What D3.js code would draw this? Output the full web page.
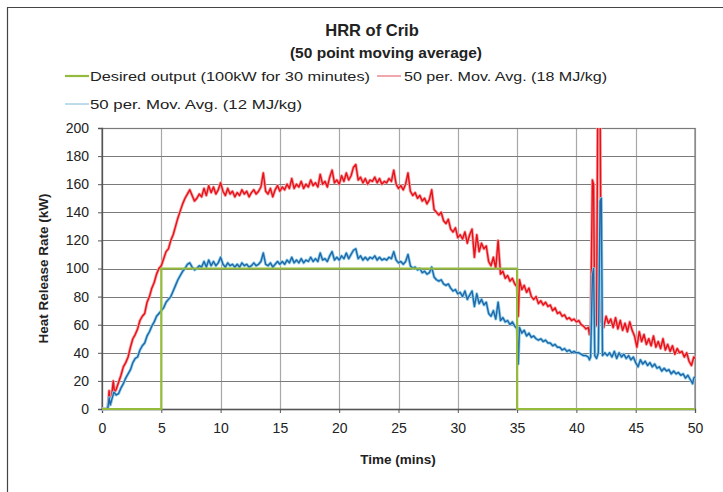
<!DOCTYPE html>
<html><head><meta charset="utf-8">
<script src="https://cdn.jsdelivr.net/npm/d3@7"></script>
<style>body{margin:0;background:#fff;}svg{display:block;font-family:"Liberation Sans",Arial,sans-serif;}</style>
</head><body><svg id="c" width="723" height="492"></svg>
<script>
const titleLines = ["HRR of Crib", "(50 point moving average)"];
const xLabel = "Time (mins)";
const yLabel = "Heat Release Rate (kW)";
const xTicks = [0,5,10,15,20,25,30,35,40,45,50];
const yTicks = [0,20,40,60,80,100,120,140,160,180,200];
const seriesNames = ["Desired output (100kW for 30 minutes)", "50 per. Mov. Avg. (18 MJ/kg)", "50 per. Mov. Avg. (12 MJ/kg)"];
const desired = [[0,0],[5,0],[5,100],[35,100],[35,0],[50,0]];
const red18 = [[0,0],[0.4,0],[0.5,2],[0.6,13],[0.7,3],[0.8,8],[0.95,20],[1.05,12],[1.2,14],[1.4,19],[1.6,24],[1.8,30],[2.0,33],[2.2,37],[2.4,44],[2.6,50],[2.8,53],[3.0,57],[3.2,63],[3.4,66],[3.6,68],[3.8,76],[4.0,80],[4.2,86],[4.4,90],[4.6,96],[4.8,100],[5.0,102],[5.2,107],[5.4,112],[5.6,114],[5.8,120],[6.0,124],[6.2,130],[6.4,136],[6.6,141],[6.8,146],[7.0,150],[7.2,153],[7.4,156],[7.6,152],[7.8,148],[8.0,150],[8.2,153],[8.4,151],[8.6,157],[8.8,152],[9.0,159],[9.2,154],[9.4,158],[9.6,153],[9.8,156],[10.0,161],[10.2,155],[10.4,152],[10.6,157],[10.8,153],[11.0,155],[11.2,151],[11.4,154],[11.6,152],[11.8,156],[12.0,153],[12.2,155],[12.4,151],[12.6,154],[12.8,156],[13.0,153],[13.2,155],[13.4,158],[13.6,168],[13.8,155],[14.0,153],[14.2,157],[14.4,151],[14.6,156],[14.8,159],[15.0,155],[15.2,158],[15.4,156],[15.6,160],[15.8,157],[16.0,164],[16.2,157],[16.4,160],[16.6,158],[16.8,162],[17.0,157],[17.2,160],[17.4,158],[17.6,163],[17.8,159],[18.0,161],[18.2,158],[18.4,167],[18.6,160],[18.8,162],[19.0,158],[19.2,165],[19.4,170],[19.6,161],[19.8,163],[20.0,160],[20.2,166],[20.4,162],[20.6,168],[20.8,163],[21.0,166],[21.2,172],[21.4,174],[21.6,163],[21.8,165],[22.0,161],[22.2,164],[22.4,160],[22.6,163],[22.8,162],[23.0,165],[23.2,161],[23.4,164],[23.6,160],[23.8,162],[24.0,161],[24.2,164],[24.4,162],[24.6,170],[24.8,160],[25.0,157],[25.2,159],[25.4,156],[25.6,160],[25.8,168],[26.0,155],[26.2,152],[26.4,154],[26.6,150],[26.8,152],[27.0,148],[27.2,150],[27.4,146],[27.6,149],[27.8,156],[28.0,142],[28.2,140],[28.4,138],[28.6,140],[28.8,134],[29.0,132],[29.2,135],[29.4,128],[29.6,126],[29.8,129],[30.0,122],[30.2,124],[30.4,121],[30.6,126],[30.8,118],[31.0,124],[31.2,128],[31.4,108],[31.6,124],[31.8,112],[32.0,118],[32.2,114],[32.4,116],[32.6,105],[32.8,102],[33.0,108],[33.2,100],[33.4,120],[33.6,96],[33.8,98],[34.0,93],[34.2,95],[34.4,91],[34.6,93],[34.8,89],[35.0,87],[35.1,66],[35.2,92],[35.4,85],[35.6,88],[35.8,83],[36.0,86],[36.2,80],[36.4,78],[36.6,80],[36.8,75],[37.0,77],[37.2,74],[37.4,76],[37.6,73],[37.8,74],[38.0,70],[38.2,72],[38.4,68],[38.6,69],[38.8,66],[39.0,67],[39.2,64],[39.4,65],[39.6,63],[39.8,64],[40.0,62],[40.2,63],[40.4,60],[40.6,59],[40.8,57],[41.0,58],[41.1,53],[41.2,60],[41.35,163],[41.45,160],[41.55,58],[41.7,60],[41.8,215],[42.0,215],[42.1,62],[42.3,58],[42.5,66],[42.7,61],[42.9,64],[43.1,58],[43.3,65],[43.5,57],[43.7,63],[43.9,56],[44.1,61],[44.3,55],[44.5,62],[44.7,56],[44.9,52],[45.1,44],[45.3,55],[45.5,48],[45.7,53],[45.9,46],[46.1,50],[46.3,45],[46.5,52],[46.7,44],[46.9,48],[47.1,43],[47.3,50],[47.5,42],[47.7,46],[47.9,41],[48.1,45],[48.3,39],[48.5,43],[48.7,40],[48.9,41],[49.1,37],[49.3,40],[49.5,34],[49.7,31],[49.9,37],[50,36]];
const blue12 = [[0,0],[0.4,0],[0.5,1],[0.6,8],[0.7,3],[0.8,6],[1.0,12],[1.2,10],[1.4,11],[1.6,15],[1.8,18],[2.0,22],[2.2,25],[2.4,28],[2.6,33],[2.8,36],[3.0,37],[3.2,42],[3.4,45],[3.6,47],[3.8,52],[4.0,55],[4.2,59],[4.4,62],[4.6,66],[4.8,68],[5.0,70],[5.2,72],[5.4,76],[5.6,78],[5.8,80],[6.0,84],[6.2,88],[6.4,92],[6.6,95],[6.8,98],[7.0,100],[7.2,103],[7.4,104],[7.6,101],[7.8,99],[8.0,100],[8.2,102],[8.4,101],[8.6,105],[8.8,101],[9.0,106],[9.2,102],[9.4,105],[9.6,102],[9.8,104],[10.0,108],[10.2,103],[10.4,101],[10.6,104],[10.8,102],[11.0,103],[11.2,101],[11.4,103],[11.6,101],[11.8,104],[12.0,102],[12.2,103],[12.4,101],[12.6,102],[12.8,104],[13.0,102],[13.2,103],[13.4,105],[13.6,111],[13.8,103],[14.0,102],[14.2,104],[14.4,101],[14.6,103],[14.8,105],[15.0,103],[15.2,105],[15.4,103],[15.6,106],[15.8,104],[16.0,108],[16.2,104],[16.4,106],[16.6,104],[16.8,107],[17.0,104],[17.2,106],[17.4,105],[17.6,108],[17.8,105],[18.0,107],[18.2,105],[18.4,111],[18.6,106],[18.8,107],[19.0,105],[19.2,109],[19.4,112],[19.6,106],[19.8,108],[20.0,106],[20.2,109],[20.4,107],[20.6,111],[20.8,107],[21.0,110],[21.2,113],[21.4,114],[21.6,107],[21.8,109],[22.0,106],[22.2,108],[22.4,106],[22.6,108],[22.8,107],[23.0,109],[23.2,106],[23.4,108],[23.6,106],[23.8,107],[24.0,106],[24.2,108],[24.4,107],[24.6,112],[24.8,106],[25.0,104],[25.2,105],[25.4,103],[25.6,105],[25.8,110],[26.0,102],[26.2,100],[26.4,101],[26.6,99],[26.8,100],[27.0,97],[27.2,98],[27.4,96],[27.6,97],[27.8,101],[28.0,94],[28.2,92],[28.4,91],[28.6,92],[28.8,89],[29.0,88],[29.2,89],[29.4,86],[29.6,84],[29.8,85],[30.0,82],[30.2,83],[30.4,80],[30.6,84],[30.8,78],[31.0,81],[31.2,84],[31.4,73],[31.6,82],[31.8,75],[32.0,78],[32.2,74],[32.4,76],[32.6,68],[32.8,66],[33.0,70],[33.2,64],[33.4,76],[33.6,63],[33.8,65],[34.0,62],[34.2,63],[34.4,60],[34.6,62],[34.8,59],[35.0,57],[35.1,32],[35.2,58],[35.4,54],[35.6,56],[35.8,52],[36.0,54],[36.2,51],[36.4,52],[36.6,50],[36.8,49],[37.0,50],[37.2,48],[37.4,49],[37.6,47],[37.8,47],[38.0,45],[38.2,46],[38.4,44],[38.6,44],[38.8,42],[39.0,43],[39.2,41],[39.4,42],[39.6,40],[39.8,41],[40.0,40],[40.2,40],[40.4,39],[40.6,38],[40.8,38],[41.0,37],[41.1,35],[41.2,37],[41.35,95],[41.45,100],[41.55,38],[41.7,36],[41.85,40],[42.0,148],[42.1,150],[42.2,38],[42.4,40],[42.6,38],[42.8,40],[43.0,37],[43.2,41],[43.4,36],[43.6,40],[43.8,37],[44.0,39],[44.2,36],[44.4,38],[44.6,35],[44.8,37],[45.0,33],[45.2,30],[45.4,35],[45.6,32],[45.8,34],[46.0,31],[46.2,33],[46.4,30],[46.6,32],[46.8,29],[47.0,30],[47.2,27],[47.4,29],[47.6,27],[47.8,28],[48.0,25],[48.2,27],[48.4,25],[48.6,26],[48.8,24],[49.0,25],[49.2,22],[49.4,24],[49.6,21],[49.8,18],[49.9,22],[50,23]];

const svg = d3.select("#c");
const W = 723, H = 492;
const m = {l:102, r:695, t:128, b:409};
const x = d3.scaleLinear().domain([0,50]).range([m.l, m.r]);
const y = d3.scaleLinear().domain([0,200]).range([m.b, m.t]);

// outer frame
svg.append("path").attr("d", `M7.5,${H} V7.5 H${W}`).attr("fill","none").attr("stroke","#444").attr("stroke-width",1.2);

// grid
svg.append("g").selectAll("line").data(xTicks.slice(1)).join("line")
  .attr("x1", d=>Math.round(x(d))+0.5).attr("x2", d=>Math.round(x(d))+0.5)
  .attr("y1", m.t).attr("y2", m.b).attr("stroke","#a8a8a8").attr("stroke-width",1.2);
svg.append("g").selectAll("line").data(yTicks.slice(1)).join("line")
  .attr("x1", m.l).attr("x2", m.r)
  .attr("y1", d=>Math.round(y(d))+0.5).attr("y2", d=>Math.round(y(d))+0.5).attr("stroke","#7a7a7a").attr("stroke-width",1.2);
svg.append("rect").attr("x", m.l).attr("y", m.t+0.5).attr("width", m.r-m.l).attr("height", m.b-m.t)
  .attr("fill","none").attr("stroke","#7a7a7a").attr("stroke-width",1.2);

// axes
const xAxis = svg.append("g").attr("transform", `translate(0,${m.b})`)
  .call(d3.axisBottom(x).tickValues(xTicks).tickSize(4).tickPadding(10));
const yAxis = svg.append("g").attr("transform", `translate(${m.l},0)`)
  .call(d3.axisLeft(y).tickValues(yTicks).tickSize(4).tickPadding(9));
[xAxis, yAxis].forEach(a => {
  a.select(".domain").attr("stroke","#555").attr("stroke-width",1.3);
  a.selectAll(".tick line").attr("stroke","#555");
  a.selectAll("text").attr("font-size", 14).attr("fill","#222").attr("font-family","Liberation Sans, Arial, sans-serif");
});

// clip
svg.append("clipPath").attr("id","clip").append("rect").attr("x", m.l).attr("y", m.t).attr("width", m.r-m.l+2).attr("height", m.b-m.t+2);
const line = d3.line().x(d=>x(d[0])).y(d=>y(d[1]));
const g = svg.append("g").attr("clip-path","url(#clip)");
g.append("path").datum(red18).attr("d", line).attr("fill","none").attr("stroke","#f7a0a0").attr("stroke-width",3).attr("stroke-linejoin","round");
g.append("path").datum(red18).attr("d", line).attr("fill","none").attr("stroke","#e8101a").attr("stroke-width",1.4).attr("stroke-linejoin","round");
g.append("path").datum(blue12).attr("d", line).attr("fill","none").attr("stroke","#8fd0ec").attr("stroke-width",3).attr("stroke-linejoin","round");
g.append("path").datum(blue12).attr("d", line).attr("fill","none").attr("stroke","#2268a8").attr("stroke-width",1.4).attr("stroke-linejoin","round");
g.append("path").datum(desired).attr("d", line).attr("fill","none").attr("stroke","#94bb3c").attr("stroke-width",2.2);

// title
svg.append("text").attr("x", 372).attr("y", 36).attr("text-anchor","middle").attr("font-size",16.5).attr("font-weight","bold").attr("fill","#222").text(titleLines[0]);
svg.append("text").attr("x", 386).attr("y", 58).attr("text-anchor","middle").attr("font-size",15.5).attr("font-weight","bold").attr("fill","#222").text(titleLines[1]);

// legend
const legend = [
  {name: seriesNames[0], color:"#94bb3c", w:2.2, lx:65, ly:76, tx:90, tl:280},
  {name: seriesNames[1], color:"#e0505a", w:1, lx:377, ly:76, tx:404, tl:203},
  {name: seriesNames[2], color:"#7fb6d8", w:1, lx:65, ly:104, tx:90, tl:212}
];
const lg = svg.append("g").selectAll("g").data(legend).join("g");
lg.append("line").attr("x1", d=>d.lx).attr("x2", d=>d.lx+24).attr("y1", d=>d.ly).attr("y2", d=>d.ly).attr("stroke", d=>d.color).attr("stroke-width", d=>d.w);
lg.append("text").attr("x", d=>d.tx).attr("y", d=>d.ly+5).attr("font-size",13.5).attr("fill","#222")
  .attr("textLength", d=>d.tl).attr("lengthAdjust","spacingAndGlyphs").text(d=>d.name);

// axis titles
svg.append("text").attr("x", 398).attr("y", 464).attr("text-anchor","middle").attr("font-size",13.5).attr("font-weight","bold").attr("fill","#222").text(xLabel);
svg.append("text").attr("transform", `translate(48,${(m.t+m.b)/2}) rotate(-90)`).attr("text-anchor","middle").attr("font-size",13.5).attr("font-weight","bold").attr("fill","#222").text(yLabel);
</script></body></html>
